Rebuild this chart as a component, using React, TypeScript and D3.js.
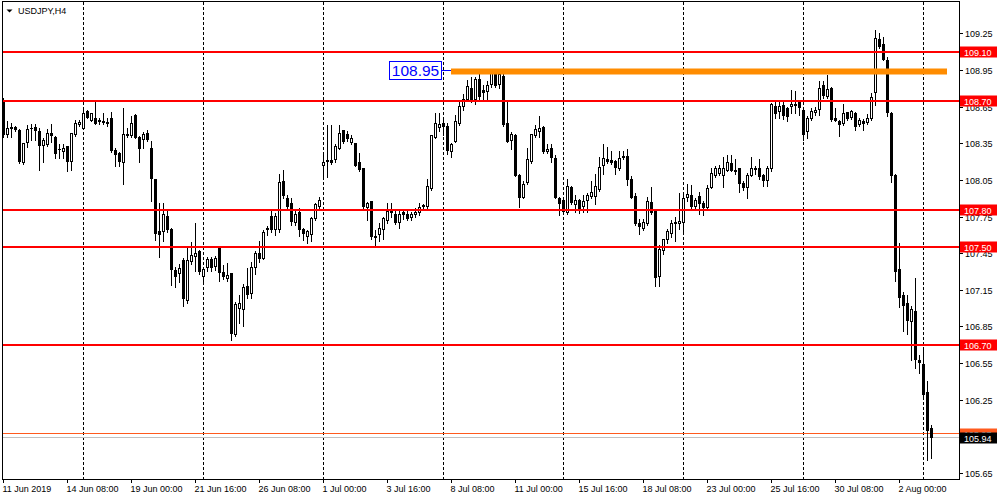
import React from "react";
import * as d3 from "d3";

// USDJPY H4 candles (open / high / low / close)
const opens = [
  108.69,108.42,108.47,108.48,108.455,108.19,108.36,108.47,108.48,108.45,
  108.33,108.34,108.43,108.40,108.30,108.28,108.32,108.20,108.42,108.50,
  108.47,108.61,108.54,108.55,108.525,108.53,108.51,108.555,108.29,108.27,
  108.19,108.41,108.41,108.58,108.40,108.385,108.43,108.31,108.055,107.625,
  107.63,107.75,107.645,107.31,107.28,107.39,107.06,107.38,107.42,107.46,
  107.26,107.33,107.40,107.34,107.50,107.29,107.245,107.28,106.78,107.00,
  106.99,107.18,107.12,107.33,107.45,107.41,107.64,107.75,107.64,107.645,
  108.04,107.90,107.86,107.70,107.78,107.645,107.59,107.60,107.735,107.83,
  108.17,108.20,108.21,108.215,108.31,108.455,108.42,108.36,108.345,108.19,
  108.145,107.825,107.87,107.58,107.60,107.64,107.72,107.79,107.77,107.70,
  107.78,107.77,107.745,107.77,107.78,107.83,107.835,107.98,108.40,108.48,
  108.51,108.49,108.28,108.365,108.515,108.65,108.71,108.80,108.71,108.87,
  108.78,108.77,108.83,108.915,108.83,108.90,108.51,108.375,108.41,108.09,
  107.91,108.025,108.20,108.41,108.45,108.48,108.28,108.31,108.225,107.90,
  107.88,107.78,107.99,107.845,107.88,107.83,107.88,107.915,107.915,107.97,
  108.165,108.215,108.21,108.20,108.14,108.23,108.24,108.055,107.915,107.69,
  107.655,107.69,107.865,107.79,107.26,107.47,107.56,107.61,107.70,107.69,
  107.70,107.91,107.92,107.835,107.915,107.86,107.82,107.99,108.09,108.105,
  108.09,108.13,108.185,108.125,108.14,108.02,107.99,108.09,108.135,108.145,
  108.09,108.045,108.14,108.655,108.61,108.66,108.635,108.655,108.66,108.68,
  108.62,108.445,108.555,108.60,108.63,108.82,108.73,108.80,108.55,108.525,
  108.515,108.60,108.565,108.595,108.50,108.53,108.52,108.55,108.765,109.20,
  109.155,109.03,108.595,108.09,107.32,107.10,107.04,106.89,106.97,106.575,
  106.54,106.31,106.015,
];
const highs = [
  108.72,108.53,108.52,108.49,108.47,108.35,108.50,108.51,108.51,108.475,
  108.39,108.47,108.51,108.41,108.34,108.34,108.33,108.43,108.54,108.54,
  108.64,108.62,108.60,108.69,108.56,108.60,108.555,108.61,108.31,108.28,
  108.64,108.475,108.575,108.59,108.41,108.445,108.46,108.365,108.06,107.86,
  107.86,107.80,107.66,107.34,107.36,107.41,107.49,107.54,107.70,107.48,
  107.33,107.42,107.42,107.43,107.50,107.35,107.37,107.29,107.05,107.11,
  107.20,107.33,107.38,107.47,107.55,107.64,107.67,107.80,107.78,108.10,
  108.13,107.93,107.90,107.80,107.82,107.66,107.64,107.75,107.86,107.91,
  108.27,108.50,108.50,108.34,108.50,108.46,108.45,108.42,108.35,108.27,
  108.15,107.87,107.88,107.64,107.70,107.75,107.86,107.86,107.80,107.80,
  107.81,107.80,107.79,107.82,107.86,107.85,108.06,108.41,108.60,108.60,
  108.55,108.52,108.35,108.58,108.69,108.75,108.87,108.89,108.89,108.925,
  108.83,108.86,108.955,108.955,108.93,108.925,108.69,108.44,108.43,108.10,
  108.04,108.31,108.42,108.50,108.575,108.49,108.34,108.34,108.25,107.91,
  107.89,108.06,108.00,107.93,107.89,107.93,107.94,108.04,108.10,108.24,
  108.34,108.32,108.29,108.21,108.29,108.29,108.30,108.08,107.94,107.73,
  107.73,107.91,107.99,107.80,107.52,107.57,107.65,107.72,107.75,107.94,
  107.94,108.02,108.01,107.90,107.95,107.88,108.01,108.15,108.16,108.17,
  108.24,108.25,108.25,108.22,108.15,108.04,108.11,108.24,108.16,108.22,
  108.095,108.16,108.68,108.70,108.69,108.69,108.65,108.79,108.78,108.70,
  108.64,108.57,108.64,108.65,108.86,108.86,108.91,108.81,108.64,108.54,
  108.67,108.61,108.62,108.61,108.56,108.55,108.59,108.76,109.28,109.25,
  109.22,109.06,108.61,108.10,107.53,107.135,107.11,107.02,107.245,106.62,
  106.66,106.40,106.04,
];
const lows = [
  108.40,108.40,108.40,108.45,108.19,108.18,108.32,108.38,108.38,108.13,
  108.20,108.33,108.36,108.23,108.23,108.23,108.12,108.13,108.41,108.49,
  108.465,108.555,108.53,108.51,108.51,108.505,108.49,108.28,108.16,108.16,
  108.015,108.40,108.40,108.39,108.20,108.31,108.37,107.88,107.56,107.42,
  107.55,107.62,107.19,107.175,107.21,107.02,107.04,107.36,107.30,107.28,
  107.22,107.30,107.30,107.31,107.22,107.24,107.22,106.74,106.77,106.88,
  106.85,107.08,107.08,107.28,107.38,107.40,107.60,107.62,107.60,107.62,
  107.90,107.80,107.68,107.68,107.59,107.56,107.53,107.55,107.72,107.80,
  108.065,108.07,108.18,108.20,108.30,108.35,108.37,108.34,108.16,108.12,
  107.80,107.72,107.57,107.52,107.55,107.57,107.70,107.75,107.69,107.66,
  107.73,107.72,107.72,107.75,107.76,107.80,107.82,107.97,108.39,108.45,
  108.42,108.26,108.24,108.36,108.50,108.62,108.70,108.69,108.67,108.70,
  108.70,108.70,108.81,108.81,108.80,108.49,108.36,108.30,108.08,107.83,
  107.90,108.02,108.19,108.40,108.40,108.27,108.27,108.20,107.90,107.76,
  107.77,107.77,107.85,107.79,107.78,107.79,107.79,107.90,107.85,107.96,
  108.10,108.19,108.18,108.10,108.13,108.22,108.01,107.90,107.68,107.61,
  107.64,107.68,107.77,107.18,107.18,107.44,107.53,107.58,107.55,107.65,
  107.63,107.88,107.80,107.80,107.77,107.76,107.81,107.98,108.07,108.09,
  107.99,108.12,108.12,108.10,107.95,107.97,107.90,108.08,108.10,108.06,
  108.00,108.00,108.12,108.56,108.56,108.55,108.53,108.60,108.60,108.58,
  108.38,108.39,108.54,108.58,108.58,108.72,108.72,108.53,108.53,108.41,
  108.50,108.54,108.55,108.46,108.49,108.46,108.51,108.54,108.66,109.13,
  109.03,108.57,108.035,107.22,107.01,106.815,106.79,106.575,106.51,106.47,
  106.27,105.755,105.77,
];
const closes = [
  108.42,108.47,108.48,108.46,108.20,108.35,108.46,108.475,108.455,108.33,
  108.37,108.43,108.41,108.27,108.295,108.31,108.20,108.43,108.51,108.52,
  108.595,108.56,108.595,108.51,108.54,108.52,108.52,108.29,108.255,108.20,
  108.42,108.42,108.51,108.40,108.31,108.425,108.385,108.065,107.61,107.60,
  107.77,107.64,107.32,107.26,107.325,107.08,107.39,107.43,107.45,107.30,
  107.32,107.40,107.33,107.41,107.29,107.26,107.27,106.79,107.03,107.04,
  107.17,107.11,107.33,107.45,107.41,107.62,107.65,107.64,107.75,108.03,
  107.92,107.83,107.71,107.77,107.64,107.61,107.63,107.735,107.85,107.88,
  108.19,108.21,108.195,108.325,108.43,108.365,108.39,108.39,108.17,108.135,
  107.83,107.855,107.585,107.59,107.655,107.73,107.79,107.785,107.70,107.77,
  107.77,107.73,107.765,107.78,107.82,107.84,108.00,108.41,108.51,108.50,
  108.49,108.29,108.34,108.53,108.65,108.71,108.815,108.705,108.875,108.73,
  108.765,108.82,108.92,108.82,108.91,108.50,108.365,108.425,108.09,107.91,
  108.015,108.22,108.42,108.46,108.475,108.28,108.30,108.235,107.91,107.855,
  107.79,108.00,107.865,107.885,107.80,107.875,107.92,107.945,108.00,108.15,
  108.225,108.20,108.195,108.155,108.225,108.245,108.05,107.91,107.69,107.67,
  107.70,107.87,107.78,107.25,107.48,107.56,107.63,107.69,107.69,107.71,
  107.90,107.93,107.83,107.88,107.855,107.825,107.98,108.10,108.145,108.145,
  108.145,108.19,108.13,108.12,108.02,107.99,108.09,108.145,108.14,108.08,
  108.045,108.145,108.665,108.595,108.655,108.58,108.57,108.665,108.665,108.64,
  108.42,108.555,108.61,108.62,108.80,108.74,108.79,108.545,108.535,108.50,
  108.59,108.55,108.61,108.49,108.54,108.515,108.555,108.725,109.21,109.14,
  109.04,108.60,108.09,107.30,107.09,107.025,106.90,106.985,106.58,106.555,
  106.29,105.995,105.94,
];

const timeLabels = [
  "11 Jun 2019", "14 Jun 08:00", "19 Jun 00:00", "21 Jun 16:00", "26 Jun 08:00",
  "1 Jul 00:00", "3 Jul 16:00", "8 Jul 08:00", "11 Jul 00:00", "15 Jul 16:00",
  "18 Jul 08:00", "23 Jul 00:00", "25 Jul 16:00", "30 Jul 08:00", "2 Aug 00:00",
];
const priceTicks = [109.25, 108.95, 108.65, 108.35, 108.05, 107.75, 107.45, 107.15, 106.85, 106.55, 106.25, 105.95, 105.65];
const levels = [109.1, 108.7, 107.8, 107.5, 106.7];
const resistance = 108.95;
const askPrice = 105.97;
const bidPrice = 105.94;
const symbolTitle = "USDJPY,H4";

const FONT = "'Liberation Sans', Arial, sans-serif";

export default function App() {
  const W = 1000, H = 500;
  const left = 2, right = 959, top = 2, bottom = 479;
  const n = closes.length;
  const x = d3.scaleLinear().domain([0, n - 1]).range([3.5, 3.5 + 4 * (n - 1)]);
  const y = d3.scaleLinear().domain([105.6005, 109.507]).range([bottom, top]);
  const snap = (v: number) => Math.round(v - 0.5) + 0.5;

  const gridIdx = d3.range(20, n, 30);
  const labelIdx = timeLabels.map((_, k) => 16 * k);

  const candles = d3.range(n).map((i) => {
    const o = opens[i], c = closes[i], h = highs[i], l = lows[i];
    const cx = snap(x(i));
    const yt = snap(y(Math.max(o, c)));
    const yb = snap(y(Math.min(o, c)));
    const bull = c >= o;
    return (
      <g key={i}>
        <line x1={cx} x2={cx} y1={Math.round(y(h))} y2={Math.round(y(l)) + 1} stroke="#000" strokeWidth={1} />
        {yb - yt < 1 ? (
          <line x1={cx - 1.5} x2={cx + 1.5} y1={yt} y2={yt} stroke="#000" strokeWidth={1} />
        ) : (
          <rect x={cx - 1} y={yt} width={2} height={yb - yt} fill={bull ? "#fff" : "#000"} stroke="#000" strokeWidth={1} />
        )}
      </g>
    );
  });

  const resY = y(resistance) + 1.5;
  const resX1 = x(112) - 0.5;
  const resX2 = x(236) - 0.5;

  const labelBox = (p: number, bg: string, key: string) => {
    const yy = Math.round(y(p));
    return (
      <g key={key}>
        <rect x={960} y={yy - 5.5} width={37} height={11} fill={bg} />
        <text x={964} y={yy + 3.5} fontSize={9} fill="#fff" fontFamily={FONT}>{p.toFixed(2)}</text>
      </g>
    );
  };

  return (
    <svg width={W} height={H} style={{ position: "fixed", left: 0, top: 0, background: "#fff" }}>
      <rect x={0} y={0} width={W} height={H} fill="#fff" />
      {/* vertical grid */}
      {gridIdx.map((i) => (
        <line key={"g" + i} x1={snap(x(i))} x2={snap(x(i))} y1={top} y2={bottom} stroke="#000" strokeWidth={1} strokeDasharray="3,2" />
      ))}
      {/* bid / ask lines */}
      <line x1={left} x2={right} y1={snap(y(bidPrice))} y2={snap(y(bidPrice))} stroke="#c0c0c0" strokeWidth={1} />
      <line x1={left} x2={right} y1={snap(y(askPrice))} y2={snap(y(askPrice))} stroke="#ff5a1e" strokeWidth={1} />
      {candles}
      {/* horizontal levels */}
      {levels.map((p) => (
        <line key={"l" + p} x1={left} x2={right} y1={Math.round(y(p))} y2={Math.round(y(p))} stroke="#ff0000" strokeWidth={2} />
      ))}
      {/* resistance band */}
      <line x1={resX1} x2={resX2} y1={resY} y2={resY} stroke="#ff8c00" strokeWidth={6} />
      <line x1={441.5} x2={resX1} y1={snap(resY - 1)} y2={snap(resY - 1)} stroke="#0000ff" strokeWidth={1} />
      <rect x={389.5} y={61.5} width={52} height={18} fill="#fff" stroke="#0000ff" strokeWidth={1} />
      <text x={415.5} y={76} fontSize={15.5} fill="#0000ff" textAnchor="middle" fontFamily={FONT}>{resistance.toFixed(2)}</text>
      {/* frame */}
      <rect x={left + 0.5} y={top - 0.5} width={right - left} height={bottom - top + 1} fill="none" stroke="#000" strokeWidth={1} />
      {/* title */}
      <path d="M6.5,9.5 L12.5,9.5 L9.5,12.5 Z" fill="#000" />
      <text x={18} y={14} fontSize={9} fill="#000" fontFamily={FONT}>{symbolTitle}</text>
      {/* price axis */}
      {priceTicks.map((p) => {
        const yy = Math.round(y(p)) + 0.5;
        return (
          <g key={"t" + p}>
            <line x1={right} x2={right + 4} y1={yy} y2={yy} stroke="#000" strokeWidth={1} />
            <text x={965} y={yy + 3.5} fontSize={9} fill="#000" fontFamily={FONT}>{p.toFixed(2)}</text>
          </g>
        );
      })}
      {levels.map((p) => labelBox(p, "#ff0000", "lb" + p))}
      {labelBox(askPrice, "#ff5a1e", "ask")}
      {labelBox(bidPrice, "#000000", "bid")}
      {/* time axis */}
      {labelIdx.map((i, k) => {
        const xx = snap(x(i));
        return (
          <g key={"x" + k}>
            <line x1={xx} x2={xx} y1={bottom} y2={bottom + 4} stroke="#000" strokeWidth={1} />
            <text x={xx - 1} y={491.5} fontSize={9} fill="#000" fontFamily={FONT}>{timeLabels[k]}</text>
          </g>
        );
      })}
    </svg>
  );
}
